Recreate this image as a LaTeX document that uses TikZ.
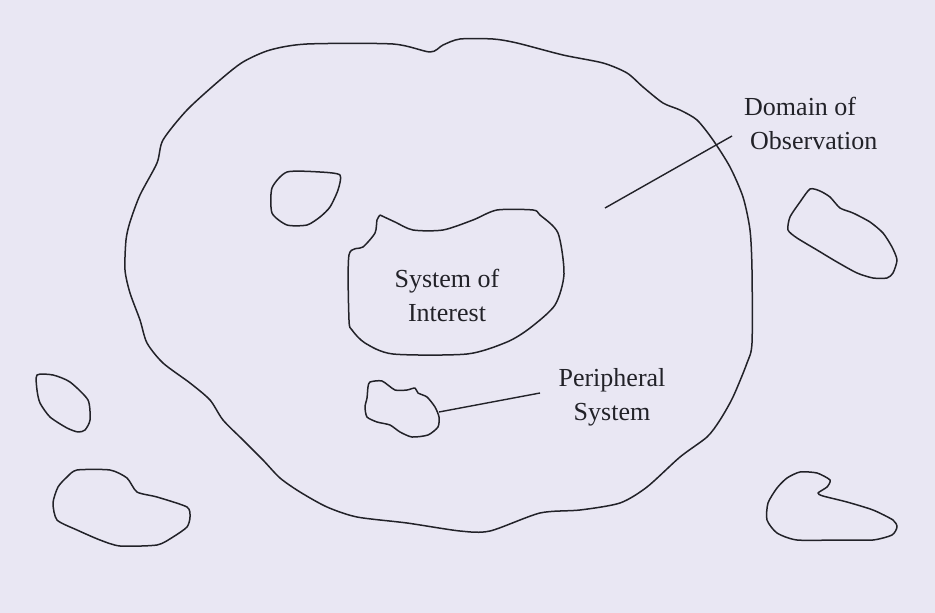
\documentclass[tikz,border=0pt]{standalone}
\usepackage{fontspec}
\setmainfont{Liberation Serif}
\usetikzlibrary{positioning}

\definecolor{paper}{RGB}{233,231,243}
\definecolor{ink}{RGB}{34,34,40}

\begin{document}
\begin{tikzpicture}[
  x=1pt, y=-1pt,
  blob/.style={draw=ink, line width=1.5pt, line join=round},
  lead/.style={draw=ink, line width=1.4pt},
  lbl/.style={font=\fontsize{26}{34}\selectfont, text=ink, inner sep=0pt},
]

% paper
\fill[paper] (0,0) rectangle (935,613);
\useasboundingbox (0,0) rectangle (935,613);

% domain of observation
\draw[blob] plot[smooth cycle, tension=0.45] coordinates {
  (243,62) (270,50) (307,44) (393,44) (430,52) (443,45) (460,39) (493,39)
  (517,43) (563,55) (603,63) (627,73) (643,87) (663,103) (680,110)
  (697,120) (713,140) (730,167) (743,197) (750,230) (752,270) (752,343)
  (747,363) (733,397) (720,420) (707,437) (680,457) (647,487) (620,503)
  (580,510) (540,513) (490,531) (460,531) (407,523) (357,517) (327,507)
  (300,492) (280,478) (263,460) (243,440) (223,420) (210,400) (190,383)
  (163,363) (147,343) (140,320) (130,293) (125,270) (126,240) (130,222)
  (140,195) (157,163) (163,140) (187,110) (220,80)};

% system of interest
\draw[blob] plot[smooth, tension=0.45] coordinates {
  (380,215) (395,222) (413,230) (443,230) (473,220) (497,210) (533,210)
  (540,215) (558,233) (564,274) (555,305) (530,328) (507,342) (467,354)
  (393,354) (365,343) (352,330) (349,320) (349,255) (363,247) (375,233)
  (377,220) (380,215)};

% peripheral systems
\draw[blob] plot[smooth cycle, tension=0.4] coordinates {
  (287,172) (320,172) (340,175) (338,190) (330,207) (320,217) (307,225)
  (287,225) (272,213) (272,188)};
\draw[blob] plot[smooth cycle, tension=0.4] coordinates {
  (370,382) (382,381) (395,390) (407,390) (415,388) (418,393) (427,397)
  (435,407) (439,417) (438,427) (428,435) (412,437) (400,432) (390,425)
  (377,422) (367,417) (365,407) (367,398) (368,387)};
\draw[blob] plot[smooth cycle, tension=0.4] coordinates {
  (37,375) (53,375) (70,382) (88,400) (90,420) (85,430) (78,432) (67,428)
  (50,417) (40,403) (37,390)};
\draw[blob] plot[smooth cycle, tension=0.4] coordinates {
  (77,470) (110,470) (127,478) (137,492) (157,497) (187,507) (190,517)
  (187,527) (173,537) (157,545) (120,546) (100,540) (77,530) (57,520)
  (53,503) (58,487) (67,477)};
\draw[blob] plot[smooth cycle, tension=0.4] coordinates {
  (810,189) (820,191) (830,197) (840,208) (853,213) (870,222) (883,233)
  (892,247) (897,260) (893,273) (887,278) (873,278) (857,273) (837,262)
  (817,250) (797,238) (788,230) (790,217) (800,202)};
\draw[blob] plot[smooth cycle, tension=0.4] coordinates {
  (800,472) (817,473) (830,480) (827,487) (818,493) (823,496) (847,502)
  (873,510) (893,520) (897,527) (892,535) (873,540) (840,540) (797,540)
  (777,533) (767,520) (768,503) (777,488) (787,478)};

% labels
\node[lbl, align=left, anchor=base west] (domain) at (744,149) {Domain of\\\hspace{6pt}Observation};
\node[lbl, align=center, anchor=base] (soi) at (447,321) {System of\\Interest};
\node[lbl, align=center, anchor=base] (periph) at (612,420) {Peripheral\\System};

% leaders
\coordinate (domfoot) at (605,208);
\coordinate (domhead) at (732,136);
\coordinate (perfoot) at (439,412);
\coordinate (perhead) at (540,393);
\draw[lead] (domfoot) -- (domhead);
\draw[lead] (perfoot) -- (perhead);

\end{tikzpicture}
\end{document}
